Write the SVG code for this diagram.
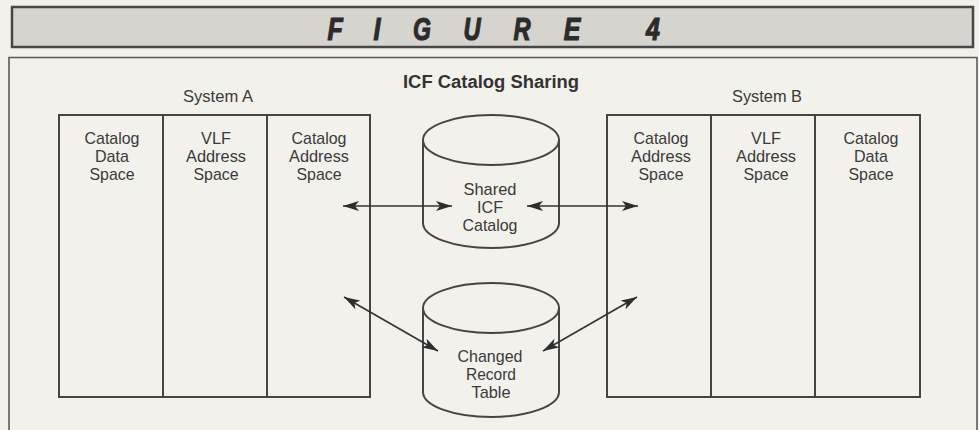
<svg xmlns="http://www.w3.org/2000/svg" width="979" height="430" viewBox="0 0 979 430">
  <defs>
    <style>
      .bg { fill: #f3f1ec; }
      .band { fill: #d6d4cf; stroke: #474747; stroke-width: 2.5; }
      .frame { fill: none; stroke: #5a5a5a; stroke-width: 1.6; }
      .box { fill: none; stroke: #454545; stroke-width: 2; }
      .cyl { fill: #f3f1ec; stroke: #454545; stroke-width: 2; }
      .fig { font-family: "Liberation Sans", Arial, sans-serif; font-weight: bold; font-style: italic; font-size: 32px; fill: #2b2b2b; stroke: #2b2b2b; stroke-width: 1.2; text-anchor: middle; }
      .title { font-family: "Liberation Sans", Arial, sans-serif; font-weight: bold; font-size: 18px; fill: #333; text-anchor: middle; }
      .lbl { font-family: "Liberation Sans", Arial, sans-serif; font-size: 17px; fill: #3a3a3a; text-anchor: middle; }
      .link { fill: none; stroke: #333; stroke-width: 1.6; }
    </style>
    <marker id="head" viewBox="0 0 16 10" refX="16" refY="5" markerWidth="16" markerHeight="10" markerUnits="userSpaceOnUse" orient="auto-start-reverse">
      <path d="M0,0 L16,5 L0,10 L4,5 Z" fill="#2e2e2e"/>
    </marker>
  </defs>

  <rect class="bg" x="0" y="0" width="979" height="430"/>

  <!-- heading band -->
  <g id="heading">
    <rect class="band" x="12" y="7" width="961" height="40"/>
    <text class="fig" transform="translate(335,40) scale(0.78,1)">F</text>
    <text class="fig" transform="translate(377,40) scale(0.78,1)">I</text>
    <text class="fig" transform="translate(422,40) scale(0.72,1)">G</text>
    <text class="fig" transform="translate(472,40) scale(0.74,1)">U</text>
    <text class="fig" transform="translate(522,40) scale(0.74,1)">R</text>
    <text class="fig" transform="translate(572,40) scale(0.78,1)">E</text>
    <text class="fig" transform="translate(653,40) scale(0.78,1)">4</text>
  </g>

  <!-- figure frame (open at the bottom) -->
  <path class="frame" d="M9,440 V57.5 H977 V440"/>

  <text class="title" x="491" y="88" textLength="176" lengthAdjust="spacingAndGlyphs">ICF Catalog Sharing</text>

  <!-- System A -->
  <g id="system-a">
    <text class="lbl" x="218" y="102" textLength="70" lengthAdjust="spacingAndGlyphs">System A</text>
    <rect class="box" x="59" y="115" width="311" height="282"/>
    <line class="box" x1="163" y1="115" x2="163" y2="397"/>
    <line class="box" x1="267" y1="115" x2="267" y2="397"/>
    <g id="a-catalog-data-space">
      <text class="lbl" x="112" y="144" textLength="55" lengthAdjust="spacingAndGlyphs">Catalog</text>
      <text class="lbl" x="112" y="162" textLength="34" lengthAdjust="spacingAndGlyphs">Data</text>
      <text class="lbl" x="112" y="180" textLength="45" lengthAdjust="spacingAndGlyphs">Space</text>
    </g>
    <g id="a-vlf-address-space">
      <text class="lbl" x="216" y="144" textLength="30" lengthAdjust="spacingAndGlyphs">VLF</text>
      <text class="lbl" x="216" y="162" textLength="60" lengthAdjust="spacingAndGlyphs">Address</text>
      <text class="lbl" x="216" y="180" textLength="45" lengthAdjust="spacingAndGlyphs">Space</text>
    </g>
    <g id="a-catalog-address-space">
      <text class="lbl" x="319" y="144" textLength="55" lengthAdjust="spacingAndGlyphs">Catalog</text>
      <text class="lbl" x="319" y="162" textLength="60" lengthAdjust="spacingAndGlyphs">Address</text>
      <text class="lbl" x="319" y="180" textLength="45" lengthAdjust="spacingAndGlyphs">Space</text>
    </g>
  </g>

  <!-- System B -->
  <g id="system-b">
    <text class="lbl" x="767" y="102" textLength="70" lengthAdjust="spacingAndGlyphs">System B</text>
    <rect class="box" x="607" y="115" width="313" height="282"/>
    <line class="box" x1="711" y1="115" x2="711" y2="397"/>
    <line class="box" x1="815" y1="115" x2="815" y2="397"/>
    <g id="b-catalog-address-space">
      <text class="lbl" x="661" y="144" textLength="55" lengthAdjust="spacingAndGlyphs">Catalog</text>
      <text class="lbl" x="661" y="162" textLength="60" lengthAdjust="spacingAndGlyphs">Address</text>
      <text class="lbl" x="661" y="180" textLength="45" lengthAdjust="spacingAndGlyphs">Space</text>
    </g>
    <g id="b-vlf-address-space">
      <text class="lbl" x="766" y="144" textLength="30" lengthAdjust="spacingAndGlyphs">VLF</text>
      <text class="lbl" x="766" y="162" textLength="60" lengthAdjust="spacingAndGlyphs">Address</text>
      <text class="lbl" x="766" y="180" textLength="45" lengthAdjust="spacingAndGlyphs">Space</text>
    </g>
    <g id="b-catalog-data-space">
      <text class="lbl" x="871" y="144" textLength="55" lengthAdjust="spacingAndGlyphs">Catalog</text>
      <text class="lbl" x="871" y="162" textLength="34" lengthAdjust="spacingAndGlyphs">Data</text>
      <text class="lbl" x="871" y="180" textLength="45" lengthAdjust="spacingAndGlyphs">Space</text>
    </g>
  </g>

  <!-- shared catalog cylinder -->
  <g id="shared-icf-catalog">
    <path class="cyl" d="M423,140 V223 A68,25 0 0 0 559,223 V140"/>
    <ellipse class="cyl" cx="491" cy="140" rx="68" ry="25"/>
    <text class="lbl" x="490" y="195" textLength="53" lengthAdjust="spacingAndGlyphs">Shared</text>
    <text class="lbl" x="490" y="213" textLength="26" lengthAdjust="spacingAndGlyphs">ICF</text>
    <text class="lbl" x="490" y="231" textLength="55" lengthAdjust="spacingAndGlyphs">Catalog</text>
  </g>

  <!-- changed record table cylinder -->
  <g id="changed-record-table">
    <path class="cyl" d="M423,308 V392 A68,25 0 0 0 559,392 V308"/>
    <ellipse class="cyl" cx="491" cy="308" rx="68" ry="25"/>
    <text class="lbl" x="490" y="362" textLength="65" lengthAdjust="spacingAndGlyphs">Changed</text>
    <text class="lbl" x="491" y="380" textLength="50" lengthAdjust="spacingAndGlyphs">Record</text>
    <text class="lbl" x="491" y="398" textLength="39" lengthAdjust="spacingAndGlyphs">Table</text>
  </g>

  <!-- connectors -->
  <g id="connectors">
    <line class="link" x1="343" y1="206" x2="452" y2="206" marker-start="url(#head)" marker-end="url(#head)"/>
    <line class="link" x1="527" y1="206" x2="638" y2="206" marker-start="url(#head)" marker-end="url(#head)"/>
    <line class="link" x1="344" y1="297" x2="438" y2="351" marker-start="url(#head)" marker-end="url(#head)"/>
    <line class="link" x1="543" y1="351" x2="637" y2="297" marker-start="url(#head)" marker-end="url(#head)"/>
  </g>
</svg>
